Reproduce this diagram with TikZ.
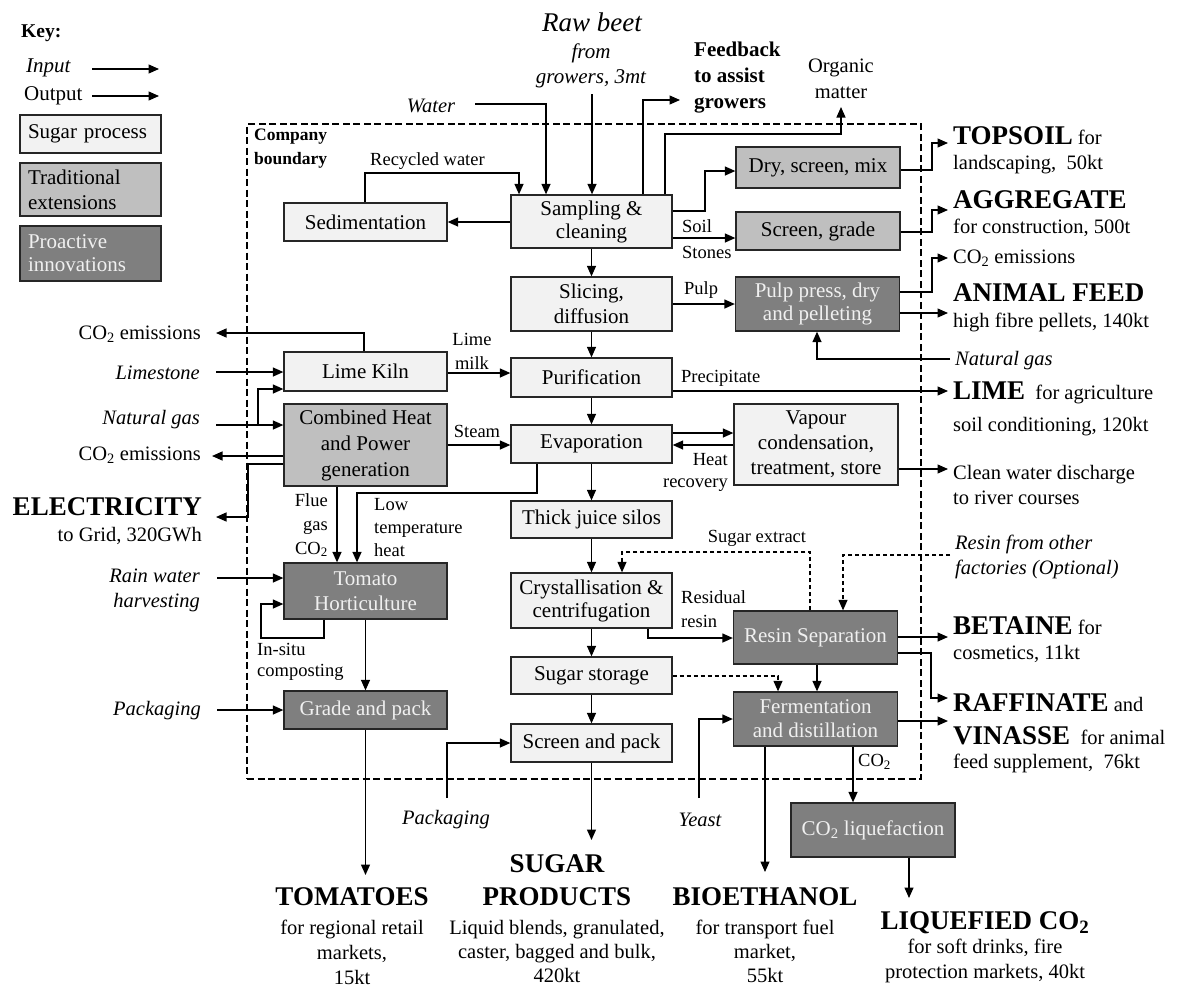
\documentclass[tikz,border=0pt]{standalone}
\usepackage{fontspec}
\setmainfont{Liberation Serif}
\usetikzlibrary{arrows.meta,calc}
\definecolor{cSug}{HTML}{F2F2F2}
\definecolor{cTrad}{HTML}{BFBFBF}
\definecolor{cPro}{HTML}{7F7F7F}
\newcommand{\BigB}[1]{{\fontsize{27}{30}\selectfont\bfseries #1}}
\newcommand{\COtwo}{CO\textsubscript{2}}
\begin{document}
\begin{tikzpicture}[x=1pt,y=-1pt,
  box/.style={draw=black!85, line width=1.3pt, inner sep=0, align=center, font=\fontsize{21}{24}\selectfont},
  sug/.style={box, fill=cSug},
  trad/.style={box, fill=cTrad},
  pro/.style={box, fill=cPro, text=white!94!black},
  colL/.style={minimum width=163, },
  colC/.style={minimum width=161},
  colR/.style={minimum width=164},
  arr/.style={line width=1.3pt, -{Triangle[length=10.5pt,width=9pt]}},
  darr/.style={line width=1.1pt, dash pattern=on 4pt off 3pt, -{Triangle[length=10.5pt,width=9pt]}},
  lbl/.style={inner sep=0, font=\fontsize{18.5}{24}\selectfont},
  txt/.style={inner sep=0, font=\fontsize{20.5}{25}\selectfont},
  itx/.style={inner sep=0, font=\itshape\fontsize{20.5}{25}\selectfont},
  bigtx/.style={inner sep=0, font=\bfseries\fontsize{27}{33}\selectfont}
]
\useasboundingbox (0,0) rectangle (1178,989);

% ---------- company boundary ----------
\node[draw, line width=2.4pt, dash pattern=on 7pt off 3.5pt, minimum width=674, minimum height=655, inner sep=0] (cb) at (584,451.5) {};
\node[anchor=west, inner sep=0, align=left, font=\bfseries\fontsize{17.5}{24}\selectfont] (cbl) at (254,149) {Company\\boundary};

% ---------- key ----------
\node[anchor=west, inner sep=0, font=\bfseries\fontsize{19.5}{22}\selectfont] (key) at (21,33) {Key:};
\node[anchor=west, itx, font=\itshape\fontsize{21}{24}\selectfont] (kin) at (26,68) {Input};
\node[anchor=west, txt, font=\fontsize{21}{24}\selectfont] (kout) at (24,96) {Output};
\coordinate (kinA) at (92,69); \coordinate (kinB) at (159,69);
\coordinate (koutA) at (92,96); \coordinate (koutB) at (159,96);
\draw[arr] (kinA) -- (kinB);
\draw[arr] (koutA) -- (koutB);
\node[sug, minimum width=141, minimum height=38, text width=125, align=left] (ksug) at (90.5,134) {Sugar process};
\node[trad, minimum width=141, minimum height=53, text width=125, align=left, font=\fontsize{21}{25}\selectfont] (ktrad) at (90.5,189.5) {Traditional\\extensions};
\node[pro, minimum width=141, minimum height=55, text width=125, align=left, font=\fontsize{21}{23}\selectfont] (kpro) at (90.5,253.5) {Proactive\\innovations};

% ---------- process boxes ----------
\node[sug, colL, minimum height=38] (sed) at (365.5,222) {Sedimentation};
\node[sug, colC, minimum height=53, font=\fontsize{21}{23}\selectfont] (samp) at (591.5,221.5) {Sampling \&\\cleaning};
\node[trad, colR, minimum height=41] (dry) at (818,167.5) {Dry, screen, mix};
\node[trad, colR, minimum height=38] (scr) at (818,231) {Screen, grade};
\node[sug, colC, minimum height=54, font=\fontsize{21}{25}\selectfont] (slic) at (591.5,304) {Slicing,\\diffusion};
\node[pro, colR, minimum height=54, font=\fontsize{21}{23}\selectfont] (pulp) at (817.5,304) {Pulp press, dry\\and pelleting};
\node[sug, colL, minimum height=39] (lime) at (365.5,371.5) {Lime Kiln};
\node[sug, colC, minimum height=39] (pur) at (591.5,377.5) {Purification};
\node[trad, colL, minimum height=82, font=\fontsize{21}{26}\selectfont] (chp) at (365.5,445) {Combined Heat\\and Power\\generation};
\node[sug, colC, minimum height=38] (evap) at (591.5,444) {Evaporation};
\node[sug, colR, minimum height=81, font=\fontsize{21}{25}\selectfont] (vap) at (816,444.5) {Vapour\\condensation,\\treatment, store};
\node[sug, colC, minimum height=37] (tjs) at (591.5,519.5) {Thick juice silos};
\node[pro, colL, minimum height=56, font=\fontsize{21}{25}\selectfont] (tom) at (365.5,591) {Tomato\\Horticulture};
\node[sug, colC, minimum height=55, font=\fontsize{21}{23}\selectfont] (cry) at (591.5,600.5) {Crystallisation \&\\centrifugation};
\node[pro, colR, minimum height=53] (resin) at (815.5,637.5) {Resin Separation};
\node[sug, colC, minimum height=37] (sst) at (591.5,675.5) {Sugar storage};
\node[pro, colR, minimum height=54, font=\fontsize{21}{24}\selectfont] (ferm) at (815.5,719) {Fermentation\\and distillation};
\node[pro, colL, minimum height=38] (grade) at (365.5,710) {Grade and pack};
\node[sug, colC, minimum height=38] (snp) at (591.5,743) {Screen and pack};
\node[pro, colR, minimum height=54] (liq) at (873,830) {\COtwo{} liquefaction};

% ---------- top inputs ----------
\node[inner sep=0, font=\itshape\fontsize{27}{30}\selectfont] (raw) at (592,22) {Raw beet};
\node[inner sep=0, align=center, font=\itshape\fontsize{21}{25}\selectfont] (rawb) at (591,66) {from\\growers, 3mt};
\coordinate (rawA) at (592,94);
\draw[arr] (rawA) -- (rawA |- samp.north);

\node[itx] (water) at (431,106) {Water};
\coordinate (watA) at (475,104); \coordinate (watB) at (546,104);
\draw[arr] (watA) -- (watB) -- (watB |- samp.north);

\node[lbl, anchor=west] (recl) at (370,161) {Recycled water};
\coordinate (recA) at (365,173); \coordinate (recB) at (519,173);
\draw[arr] (sed.north -| recA) -- (recA) -- (recB) -- (recB |- samp.north);
\draw[arr] (samp.west |- sed.east) -- (sed.east);

\coordinate (fbA) at (643,100); \coordinate (fbB) at (680,100);
\draw[arr] (samp.north -| fbA) -- (fbA) -- (fbB);
\node[anchor=west, inner sep=0, align=left, font=\bfseries\fontsize{21}{26}\selectfont] (fb) at (694,78) {Feedback\\to assist\\growers};

\coordinate (orA) at (665,134); \coordinate (orB) at (841,134); \coordinate (orC) at (841,107);
\draw[arr] (samp.north -| orA) -- (orA) -- (orB) -- (orC);
\node[txt, align=center, font=\fontsize{20.5}{26}\selectfont] (org) at (841,79) {Organic\\matter};

% ---------- sampling outputs ----------
\coordinate (sdA) at (705,211); \coordinate (sdB) at (705,171);
\draw[arr] (samp.east |- sdA) -- (sdA) -- (sdB) -- (dry.west |- sdB);
\coordinate (ssA) at (672,238);
\draw[arr] (samp.east |- ssA) -- (scr.west |- ssA);
\node[lbl, anchor=west] (soil) at (682,226) {Soil};
\node[lbl, anchor=west] (stones) at (682,252) {Stones};
\draw[arr] (samp.south) -- (slic.north);

\draw[arr] (slic.east) -- (pulp.west);
\node[lbl, anchor=west] (pulpl) at (684,290) {Pulp};

\coordinate (tsA) at (932,170); \coordinate (tsB) at (932,143); \coordinate (tsC) at (948,143);
\draw[arr] (dry.east |- tsA) -- (tsA) -- (tsB) -- (tsC);
\coordinate (agA) at (932,232); \coordinate (agB) at (932,210); \coordinate (agC) at (948,210);
\draw[arr] (scr.east |- agA) -- (agA) -- (agB) -- (agC);
\coordinate (pcA) at (932,292); \coordinate (pcB) at (932,258); \coordinate (pcC) at (948,258);
\draw[arr] (pulp.east |- pcA) -- (pcA) -- (pcB) -- (pcC);
\coordinate (afC) at (948,313);
\draw[arr] (pulp.east |- afC) -- (afC);
\coordinate (ngA) at (950,359); \coordinate (ngB) at (817,359);
\draw[arr] (ngA) -- (ngB) -- (ngB |- pulp.south);

% ---------- middle ----------
\draw[arr] (slic.south) -- (pur.north);
\coordinate (lmA) at (447,373);
\draw[arr] (lime.east |- lmA) -- (pur.west |- lmA);
\node[lbl, align=center] (lml) at (472,351) {Lime\\milk};
\coordinate (liC) at (948,391);
\draw[arr] (pur.east |- liC) -- (liC);
\node[lbl, anchor=west] (prec) at (681,378) {Precipitate};
\draw[arr] (pur.south) -- (evap.north);
\coordinate (stA) at (447,445);
\draw[arr] (chp.east |- stA) -- (evap.west |- stA);
\node[lbl] (steam) at (477,431) {Steam};
\coordinate (evA) at (672,433); \coordinate (evB) at (672,445);
\draw[arr] (evap.east |- evA) -- (vap.west |- evA);
\draw[arr] (vap.west |- evB) -- (evap.east |- evB);
\node[lbl, anchor=east, align=right, font=\fontsize{18.5}{22}\selectfont] (hr) at (728,472) {Heat\\recovery};
\coordinate (cwC) at (948,469);
\draw[arr] (vap.east |- cwC) -- (cwC);
\draw[arr] (evap.south) -- (tjs.north);
\coordinate (ltA) at (537,493); \coordinate (ltB) at (357,493);
\draw[arr] (evap.south -| ltA) -- (ltA) -- (ltB) -- (ltB |- tom.north);
\node[lbl, anchor=west, align=left, font=\fontsize{18.5}{23}\selectfont] (ltl) at (374,528) {Low\\temperature\\heat};
\coordinate (fgA) at (337,486);
\draw[arr] (chp.south -| fgA) -- (fgA |- tom.north);
\node[lbl, anchor=east, align=right] (fgl) at (328,525) {Flue\\gas\\\COtwo};

\draw[arr] (tjs.south) -- (cry.north);
\coordinate (seA) at (810,552); \coordinate (seB) at (622,552);
\draw[darr] (resin.north -| seA) -- (seA) -- (seB) -- (seB |- cry.north);
\node[lbl] (sel) at (757,538) {Sugar extract};
\coordinate (roA) at (950,555); \coordinate (roB) at (843,555);
\draw[darr] (roA) -- (roB) -- (roB |- resin.north);
\node[itx, anchor=west, align=left] (ro) at (955,557) {Resin from other\\factories (Optional)};

\coordinate (crA) at (648,638);
\draw[arr] (cry.south -| crA) -- (crA) -- (resin.west |- crA);
\node[lbl, anchor=west, align=left] (rrl) at (681,609) {Residual\\resin};
\draw[arr] (cry.south) -- (sst.north);
\coordinate (sfA) at (778,676);
\draw[darr] (sst.east |- sfA) -- (sfA) -- (sfA |- ferm.north);
\coordinate (rfA) at (817,664);
\draw[arr] (resin.south -| rfA) -- (rfA |- ferm.north);
\coordinate (beC) at (948,637);
\draw[arr] (resin.east |- beC) -- (beC);
\coordinate (raA) at (931,653); \coordinate (raB) at (931,698); \coordinate (raC) at (948,698);
\draw[arr] (resin.east |- raA) -- (raA) -- (raB) -- (raC);
\coordinate (viC) at (948,721);
\draw[arr] (ferm.east |- viC) -- (viC);
\draw[arr] (sst.south) -- (snp.north);

% ---------- bottom ----------
\coordinate (pkA) at (447,798); \coordinate (pkB) at (447,743);
\draw[arr] (pkA) -- (pkB) -- (snp.west |- pkB);
\node[itx] (pkl) at (446,820) {Packaging};
\coordinate (suC) at (591.5,840);
\draw[arr] (snp.south) -- (suC);
\coordinate (yA) at (699,798); \coordinate (yB) at (699,719);
\draw[arr] (yA) -- (yB) -- (ferm.west |- yB);
\node[itx] (yl) at (700,820) {Yeast};
\coordinate (bioC) at (765,872);
\draw[arr] (ferm.south -| bioC) -- (bioC);
\coordinate (coA) at (853,746);
\draw[arr] (ferm.south -| coA) -- (coA |- liq.north);
\node[lbl, anchor=west] (col) at (858,762) {\COtwo};
\coordinate (lqA) at (909,857); \coordinate (lqC) at (909,898);
\draw[arr] (liq.south -| lqA) -- (lqC);

% ---------- left side ----------
\coordinate (lcA) at (364,333); \coordinate (lcC) at (216,333);
\draw[arr] (lime.north -| lcA) -- (lcA) -- (lcC);
\node[txt, anchor=east] (co2a) at (201,334) {\COtwo{} emissions};
\coordinate (lsA) at (216,372);
\draw[arr] (lsA) -- (lime.west |- lsA);
\node[itx, anchor=east] (lst) at (200,373) {Limestone};
\coordinate (ngL) at (216,425); \coordinate (ngJ) at (258,425); \coordinate (ngK) at (258,389);
\draw[arr] (ngL) -- (chp.west |- ngL);
\draw[arr] (ngJ) -- (ngK) -- (lime.west |- ngK);
\node[itx, anchor=east] (ngl) at (200,420) {Natural gas};
\coordinate (ccC) at (212,456);
\draw[arr] (chp.west |- ccC) -- (ccC);
\node[txt, anchor=east] (co2b) at (201,455) {\COtwo{} emissions};
\coordinate (elA) at (248,464); \coordinate (elB) at (248,517); \coordinate (elC) at (216,517);
\draw[arr] (chp.west |- elA) -- (elA) -- (elB) -- (elC);
\node[bigtx, anchor=east] (elec) at (202,507) {ELECTRICITY};
\node[txt, anchor=east] (elec2) at (202,536) {to Grid, 320GWh};
\coordinate (rwA) at (217,578);
\draw[arr] (rwA) -- (tom.west |- rwA);
\node[itx, anchor=east, align=right] (rwl) at (200,590) {Rain water\\harvesting};
\coordinate (tlA) at (324,638); \coordinate (tlB) at (261,638); \coordinate (tlC) at (261,604);
\draw[arr] (tom.south -| tlA) -- (tlA) -- (tlB) -- (tlC) -- (tom.west |- tlC);
\node[lbl, anchor=west, align=left, font=\fontsize{18.5}{21}\selectfont] (isl) at (257,662) {In-situ\\composting};
\draw[arr] (tom.south) -- (grade.north);
\coordinate (plA) at (217,710);
\draw[arr] (plA) -- (grade.west);
\node[itx, anchor=east] (pll) at (201,711) {Packaging};
\coordinate (toC) at (365.5,875);
\draw[arr] (grade.south) -- (toC);

% ---------- output texts right ----------
\node[txt, anchor=west] (topsoil) at (953,136) {\BigB{TOPSOIL} for};
\node[txt, anchor=west] (topsoil2) at (953,165) {landscaping,\ \ 50kt};
\node[bigtx, anchor=west] (aggr) at (953,200) {AGGREGATE};
\node[txt, anchor=west] (aggr2) at (953,228) {for construction, 500t};
\node[txt, anchor=west] (co2c) at (953,258) {\COtwo{} emissions};
\node[bigtx, anchor=west] (feed) at (953,293) {ANIMAL FEED};
\node[txt, anchor=west] (feed2) at (953,322) {high fibre pellets, 140kt};
\node[itx, anchor=west] (ngr) at (955,361) {Natural gas};
\node[txt, anchor=west] (limeo) at (953,393) {\BigB{LIME}\ \ for agriculture};
\node[txt, anchor=west] (limeo2) at (953,427) {soil conditioning, 120kt};
\node[txt, anchor=west, align=left] (clean) at (953,484.5) {Clean water discharge\\to river courses};
\node[txt, anchor=west] (bet) at (953,626) {\BigB{BETAINE} for};
\node[txt, anchor=west] (bet2) at (953,654) {cosmetics, 11kt};
\node[txt, anchor=west] (raf) at (953,703) {\BigB{RAFFINATE} and};
\node[txt, anchor=west] (vin) at (953,736) {\BigB{VINASSE}\ \ for animal};
\node[txt, anchor=west] (vin2) at (953,763) {feed supplement,\ \ 76kt};

% ---------- output texts bottom ----------
\node[bigtx] (tomo) at (352,897) {TOMATOES};
\node[txt, align=center] (tomo2) at (352,952) {for regional retail\\markets,\\15kt};
\node[bigtx, align=center] (sugo) at (557,880.5) {SUGAR\\PRODUCTS};
\node[txt, align=center, font=\fontsize{20.5}{24}\selectfont] (sugo2) at (557,951) {Liquid blends, granulated,\\caster, bagged and bulk,\\420kt};
\node[bigtx] (bioo) at (765,897) {BIOETHANOL};
\node[txt, align=center, font=\fontsize{20.5}{24}\selectfont] (bioo2) at (765,951) {for transport fuel\\market,\\55kt};
\node[bigtx] (liqo) at (985,923) {LIQUEFIED \COtwo};
\node[txt, align=center] (liqo2) at (985,960.5) {for soft drinks, fire\\protection markets, 40kt};
\end{tikzpicture}
\end{document}
